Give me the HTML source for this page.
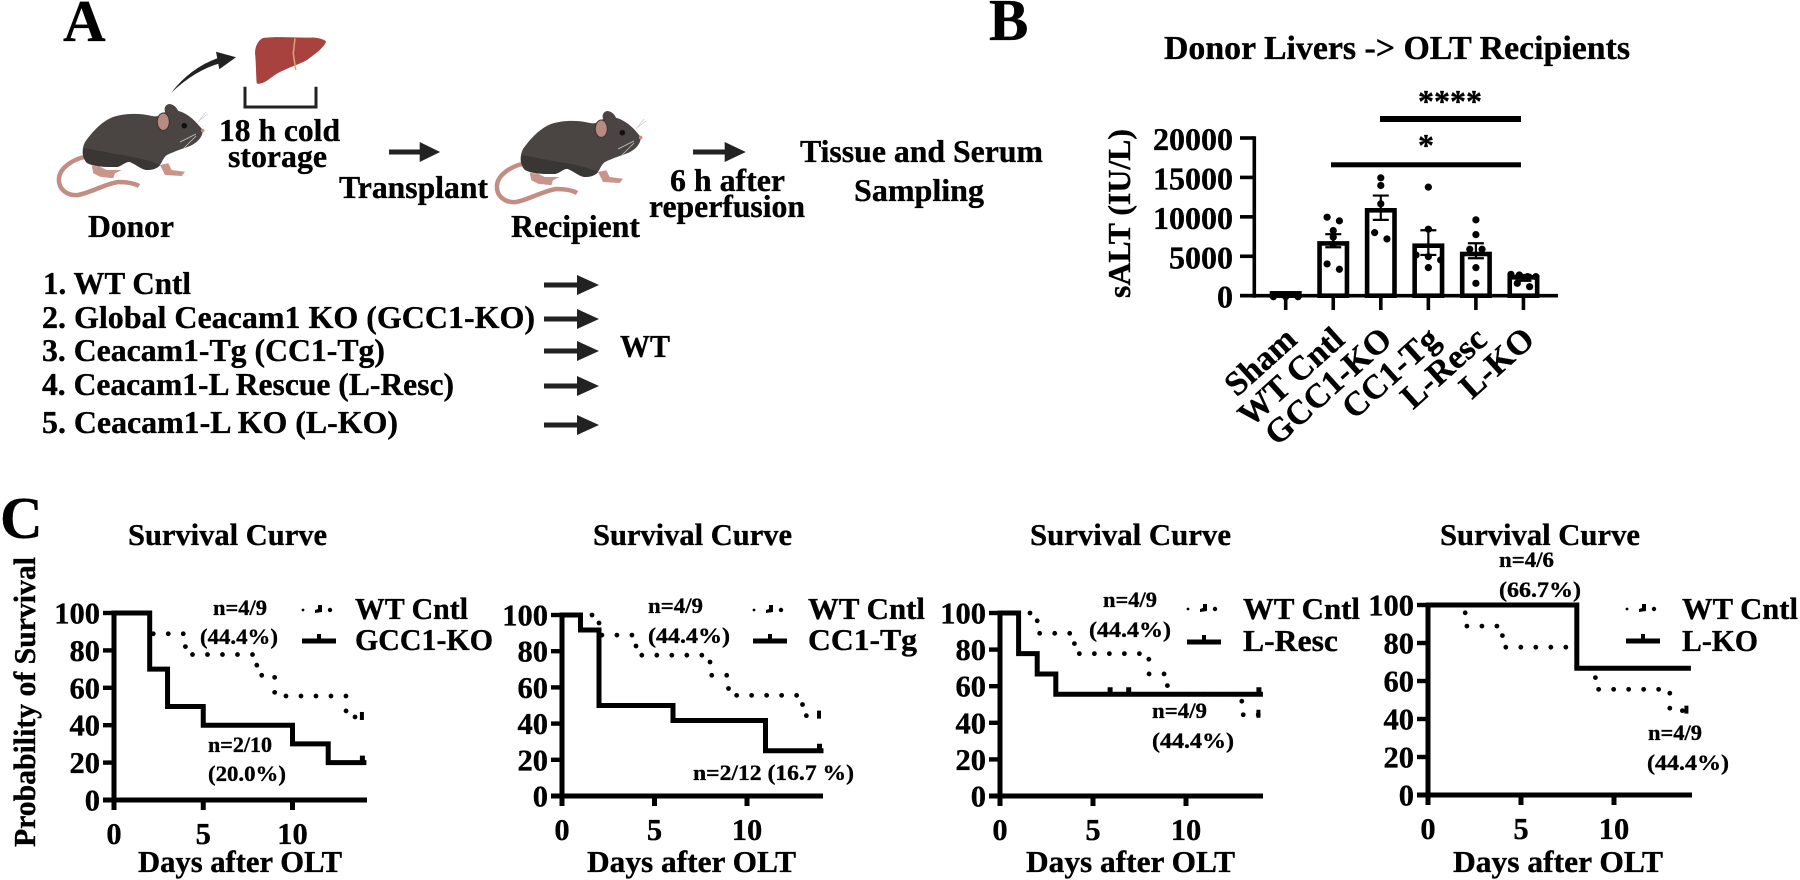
<!DOCTYPE html>
<html lang="en">
<head>
<meta charset="utf-8">
<title>Donor liver transplant figure</title>
<style>
html,body{margin:0;padding:0;background:#fff;width:1800px;height:880px;overflow:hidden}
svg{display:block}
text{font-family:"Liberation Serif",serif;font-weight:bold;fill:#000;stroke:#000;stroke-width:.35px}
.f59{font-size:59px}.f30{font-size:30.5px}.f22{font-size:22.5px}.f32{font-size:32px}.f335{font-size:33.5px}.f34{font-size:34px}
</style>
</head>
<body>
<svg id="figure" xmlns="http://www.w3.org/2000/svg" width="1800" height="880" viewBox="0 0 1800 880">
<defs>
<g id="mouse-shape">
<path d="M84 157C72 160 60 168 59 178C58 190 68 196 78 195C90 193 105 184 118 182C126 182 134 183 139 186" fill="none" stroke="#c48d83" stroke-width="4.5"/>
<path d="M91.700 165.700L100 166.700L106.700 170L121.700 170L115 173.300L113.300 178.300L100 176.700L93.300 173.300Z" fill="#c9958b"/>
<path d="M160 165L168.300 163.300L171.700 170L185 171.700L181.700 176L165 175Z" fill="#c9958b"/>
<path d="M202.700 130C198 124 190 114 178 110.700C176 106 172 104 169 104C165 105 164 108 165 112C160 116 156 117 152 116C140 113 125 113 113 117C100 122 90 135 85 142C82 148 81 157 87 163C95 167 105 167 117 167C122 166 126 161 130 162C137 165 142 170 147 170C153 170 158 168 160 165C163 160 164 157 167 155C175 151 185 148 190 146C197 143 203 137 202.700 130Z" fill="#4a4542"/>
<path d="M87 163C95 167 105 167 117 167C122 166 126 161 130 162C137 165 142 170 147 170C153 170 158 168 160 165C150 160 130 156 115 154C105 152 95 150 84 148C82 152 83 159 87 163Z" fill="#3a3634"/>
<ellipse cx="163.300" cy="121.700" rx="6" ry="8.700" fill="#b98a80" stroke="#3a3634" stroke-width="1"/>
<circle cx="184.300" cy="125.700" r="2.800" fill="#111"/>
<circle cx="202.700" cy="130.500" r="1.800" fill="#d08a80"/>
<path d="M198 122L206 112M200 120L208 114M196 134L180 142M196 136L184 148" stroke="#ccc" stroke-width=".7" fill="none"/>
</g>
<g id="arrow-shape">
<rect x="0" y="-2.500" width="36" height="5" fill="#222"/>
<path d="M33 -10L55 0L33 10Z" fill="#222"/>
</g>
</defs>

<!-- Panel A -->
<g id="panel-a">
<text class="f59" x="63" y="41">A</text>
<path d="M171 93Q190 68 218 58L221 63Q195 70 171 93Z" fill="#222"/>
<path d="M216 51.700L236 57.300L219.300 69.300Z" fill="#222"/>
<path d="M263 38C275 36 300 38 313 37.500C320 38 326 40 326 42C324 47 318 52 307 60C300 64 290 67 280 72C272 76 268 81 263 82.700C259 84 257 84 256.700 83C256 75 256 62 255 53C255 47 258 40 263 38Z" fill="#a8423f"/>
<path d="M295 38.300L293.300 53.300L295.700 70" stroke="#d9a57c" stroke-width="1.500" fill="none"/>
<path d="M245 86.700V107H316V86.700" fill="none" stroke="#222" stroke-width="3"/>
<use href="#mouse-shape"/>
<use href="#mouse-shape" transform="translate(438,7)"/>
<text class="f32" x="219" y="141" textLength="121" lengthAdjust="spacingAndGlyphs">18 h cold</text>
<text class="f32" x="228" y="167" textLength="99" lengthAdjust="spacingAndGlyphs">storage</text>
<use href="#arrow-shape" transform="translate(389,152) scale(.93,1)"/>
<text class="f32" x="339" y="198" textLength="149" lengthAdjust="spacingAndGlyphs">Transplant</text>
<text class="f32" x="88" y="237" textLength="86" lengthAdjust="spacingAndGlyphs">Donor</text>
<text class="f32" x="511" y="237" textLength="129" lengthAdjust="spacingAndGlyphs">Recipient</text>
<use href="#arrow-shape" transform="translate(693,152) scale(.96,1)"/>
<text class="f32" x="670" y="191" textLength="115" lengthAdjust="spacingAndGlyphs">6 h after</text>
<text class="f32" x="649" y="217" textLength="156" lengthAdjust="spacingAndGlyphs">reperfusion</text>
<text class="f32" x="800" y="162" textLength="243" lengthAdjust="spacingAndGlyphs">Tissue and Serum</text>
<text class="f32" x="854" y="201" textLength="130" lengthAdjust="spacingAndGlyphs">Sampling</text>
<text class="f32" x="43" y="294" textLength="148" lengthAdjust="spacingAndGlyphs">1. WT Cntl</text>
<text class="f32" x="42" y="328" textLength="493" lengthAdjust="spacingAndGlyphs">2. Global Ceacam1 KO (GCC1-KO)</text>
<text class="f32" x="42" y="361" textLength="343" lengthAdjust="spacingAndGlyphs">3. Ceacam1-Tg (CC1-Tg)</text>
<text class="f32" x="42" y="395" textLength="412" lengthAdjust="spacingAndGlyphs">4. Ceacam1-L Rescue (L-Resc)</text>
<text class="f32" x="42" y="433" textLength="356" lengthAdjust="spacingAndGlyphs">5. Ceacam1-L KO (L-KO)</text>
<use href="#arrow-shape" transform="translate(544,285)"/>
<use href="#arrow-shape" transform="translate(544,319)"/>
<use href="#arrow-shape" transform="translate(544,351)"/>
<use href="#arrow-shape" transform="translate(544,386)"/>
<use href="#arrow-shape" transform="translate(544,425)"/>
<text class="f32" x="620" y="357" textLength="50" lengthAdjust="spacingAndGlyphs">WT</text>
</g>

<!-- Panel B -->
<g id="panel-b">
<text class="f59" x="989" y="40">B</text>
<text class="f335" x="1164" y="59" textLength="466" lengthAdjust="spacingAndGlyphs">Donor Livers -&gt; OLT Recipients</text>
<text class="f32" x="0" y="0" text-anchor="middle" transform="translate(1130,213.500) rotate(-90)" textLength="169" lengthAdjust="spacingAndGlyphs">sALT (IU/L)</text>
<text class="f32" x="1450" y="112" text-anchor="middle">****</text>
<rect x="1380" y="116" width="141" height="6" fill="#000"/>
<text class="f32" x="1426" y="156" text-anchor="middle">*</text>
<rect x="1331" y="162.300" width="190" height="5" fill="#000"/>
<g id="bar-plot"></g>
</g>

<!-- Panel C -->
<g id="panel-c">
<text class="f59" x="0" y="538">C</text>
<text class="f30" x="0" y="0" text-anchor="middle" transform="translate(35,702) rotate(-90)" textLength="290" lengthAdjust="spacingAndGlyphs">Probability of Survival</text>

<text class="f30" x="128" y="545" textLength="199" lengthAdjust="spacingAndGlyphs">Survival Curve</text>
<text class="f30" x="138" y="872" textLength="204" lengthAdjust="spacingAndGlyphs">Days after OLT</text>
<text class="f30" x="355" y="619" textLength="113" lengthAdjust="spacingAndGlyphs">WT Cntl</text>
<text class="f30" x="355" y="650" textLength="138" lengthAdjust="spacingAndGlyphs">GCC1-KO</text>
<text class="f22" x="213" y="615" textLength="54" lengthAdjust="spacingAndGlyphs">n=4/9</text>
<text class="f22" x="200" y="644" textLength="78" lengthAdjust="spacingAndGlyphs">(44.4%)</text>
<text class="f22" x="208" y="752" textLength="64" lengthAdjust="spacingAndGlyphs">n=2/10</text>
<text class="f22" x="208" y="781" textLength="78" lengthAdjust="spacingAndGlyphs">(20.0%)</text>

<text class="f30" x="593" y="545" textLength="199" lengthAdjust="spacingAndGlyphs">Survival Curve</text>
<text class="f30" x="587" y="872" textLength="209" lengthAdjust="spacingAndGlyphs">Days after OLT</text>
<text class="f30" x="808" y="619" textLength="117" lengthAdjust="spacingAndGlyphs">WT Cntl</text>
<text class="f30" x="808" y="650" textLength="109" lengthAdjust="spacingAndGlyphs">CC1-Tg</text>
<text class="f22" x="648" y="613" textLength="55" lengthAdjust="spacingAndGlyphs">n=4/9</text>
<text class="f22" x="648" y="643" textLength="82" lengthAdjust="spacingAndGlyphs">(44.4%)</text>
<text class="f22" x="693" y="780" textLength="161" lengthAdjust="spacingAndGlyphs">n=2/12 (16.7 %)</text>

<text class="f30" x="1030" y="545" textLength="201" lengthAdjust="spacingAndGlyphs">Survival Curve</text>
<text class="f30" x="1026" y="872" textLength="209" lengthAdjust="spacingAndGlyphs">Days after OLT</text>
<text class="f30" x="1243" y="619" textLength="117" lengthAdjust="spacingAndGlyphs">WT Cntl</text>
<text class="f30" x="1243" y="651" textLength="95" lengthAdjust="spacingAndGlyphs">L-Resc</text>
<text class="f22" x="1103" y="607" textLength="54" lengthAdjust="spacingAndGlyphs">n=4/9</text>
<text class="f22" x="1089" y="637" textLength="82" lengthAdjust="spacingAndGlyphs">(44.4%)</text>
<text class="f22" x="1152" y="718" textLength="55" lengthAdjust="spacingAndGlyphs">n=4/9</text>
<text class="f22" x="1152" y="748" textLength="82" lengthAdjust="spacingAndGlyphs">(44.4%)</text>

<text class="f30" x="1440" y="545" textLength="200" lengthAdjust="spacingAndGlyphs">Survival Curve</text>
<text class="f30" x="1453" y="872" textLength="210" lengthAdjust="spacingAndGlyphs">Days after OLT</text>
<text class="f30" x="1682" y="619" textLength="116" lengthAdjust="spacingAndGlyphs">WT Cntl</text>
<text class="f30" x="1682" y="651" textLength="76" lengthAdjust="spacingAndGlyphs">L-KO</text>
<text class="f22" x="1499" y="567" textLength="55" lengthAdjust="spacingAndGlyphs">n=4/6</text>
<text class="f22" x="1499" y="597" textLength="82" lengthAdjust="spacingAndGlyphs">(66.7%)</text>
<text class="f22" x="1648" y="740" textLength="54" lengthAdjust="spacingAndGlyphs">n=4/9</text>
<text class="f22" x="1647" y="770" textLength="82" lengthAdjust="spacingAndGlyphs">(44.4%)</text>
<g id="survival-plots"></g>
</g>
</svg>

<script>
// ---- Bar chart data ----
const barCategories = ["Sham", "WT Cntl", "GCC1-KO", "CC1-Tg", "L-Resc", "L-KO"];
const barMeans = [300, 6630, 10830, 6340, 5290, 2330];
const barErrHigh = [400, 7800, 12700, 8300, 6650, 2630];
const barErrLow = [200, 6140, 9620, 5170, 4745, 1900];
const shamDots = [-130, -130, -130];
const wtDots = [9960, 9490, 8260, 7415, 6500, 4030, 3350];
const gccDots = [14950, 13980, 11650, 8000, 7200];
const cc1Dots = [13770, 8430, 5170, 4960, 4530, 3560];
const rescDots = [9620, 7750, 5890, 5890, 3560, 1570];
const lkoDots = [2710, 2630, 2415, 2415, 1570, 1140];
const barDotGroups = [shamDots, wtDots, gccDots, cc1Dots, rescDots, lkoDots];
const barYTicks = [0, 5000, 10000, 15000, 20000];

// ---- Survival data ----
const wtDays = [0, 2, 4, 8, 9, 13, 14];
const wtSurvival = [100, 88.9, 77.8, 66.7, 55.6, 44.4, 44.4];
const gccDays = [0, 2, 3, 5, 10, 12, 14];
const gccSurvival = [100, 70, 50, 40, 30, 20, 20];
const cc1Days = [0, 1, 2, 6, 11, 14];
const cc1Survival = [100, 91.7, 50, 41.7, 25, 25];
const rescDays = [0, 1, 2, 3, 14];
const rescSurvival = [100, 77.8, 66.7, 55.6, 55.6];
const lkoDays = [0, 8, 14];
const lkoSurvival = [100, 66.7, 66.7];
const gccCensored = [14];
const cc1Censored = [14];
const rescCensored = [6, 7, 14];
const lkoCensored = [];
const wtCensored = [14];
const survYTicks = [0, 20, 40, 60, 80, 100];
const survXTicks = [0, 5, 10];

var NS = 'http://www.w3.org/2000/svg';
function mk(tag, attrs, parent) {
  var el = document.createElementNS(NS, tag);
  for (var k in attrs) el.setAttribute(k, attrs[k]);
  parent.appendChild(el);
  return el;
}

// ---- Bar chart drawing ----
(function () {
  var root = document.getElementById('bar-plot');
  var y0 = 295.7, yTop = 138, axisX = 1254.3, firstX = 1285.7, catStep = 47.55;
  function yScale(v) { return y0 - (v / 20000) * (y0 - yTop); }
  function xScale(i) { return firstX + i * catStep; }
  // Prism-style rows: close values share a row, centred on the category
  function swarm(values) {
    var rows = [], out = [];
    values.forEach(function (v, idx) {
      var py = yScale(v), last = rows[rows.length - 1];
      if (last && Math.abs(py - last.y) < 6.5) { last.items.push(idx); }
      else { rows.push({ y: py, items: [idx] }); }
    });
    rows.forEach(function (r) {
      var n = r.items.length;
      var gap = n > 1 ? Math.min(12.3, 25 / (n - 1)) : 0;
      r.items.forEach(function (idx, j) { out[idx] = (j - (n - 1) / 2) * gap; });
    });
    return out;
  }

  barCategories.forEach(function (cat, i) {
    var cx = xScale(i);
    var bar = mk('rect', { x: cx - 13.7, y: yScale(barMeans[i]), width: 27.4, height: Math.max(0, y0 - yScale(barMeans[i])), fill: '#fff', stroke: '#000', 'stroke-width': 4.6 }, root);
    
    
  });

  var yAxis = mk('line', { x1: axisX, x2: axisX, y1: yTop - 1.8, y2: y0 + 2, stroke: '#000', 'stroke-width': 3.6 }, root);
  
  
  var xAxis = mk('line', { x1: 1240, x2: 1558, y1: y0, y2: y0, stroke: '#000', 'stroke-width': 3.6 }, root);
  
  

  barYTicks.forEach(function (t) {
    var tick = mk('line', { x1: 1240, x2: axisX, y1: yScale(t), y2: yScale(t), stroke: '#000', 'stroke-width': 3.6 }, root);
    
    
    var lab = mk('text', { x: 1233, y: yScale(t) + 12, 'text-anchor': 'end', 'class': 'f32' }, root);
    lab.textContent = String(t);
    
    
  });

  barCategories.forEach(function (cat, i) {
    var cx = xScale(i);
    var slug = cat.toLowerCase().replace(/\s+/g, '-');
    var tick = mk('line', { x1: cx, x2: cx, y1: y0, y2: 310, stroke: '#000', 'stroke-width': 3.6 }, root);
    
    
    var lab = mk('text', { x: 0, y: 0, 'text-anchor': 'end', 'class': 'f34', transform: 'translate(' + (cx + 13) + ',342) rotate(-42)' }, root);
    lab.textContent = cat;
    
    

    var offs = swarm(barDotGroups[i]);
    barDotGroups[i].forEach(function (v, j) {
      var dot = mk('circle', { cx: cx + offs[j], cy: yScale(v), r: 3.6, fill: '#000' }, root);
      
      
    });

    var err = mk('path', {
      d: 'M' + (cx - 8) + ' ' + yScale(barErrHigh[i]) + 'H' + (cx + 8) + 'M' + cx + ' ' + yScale(barErrHigh[i]) + 'V' + yScale(barErrLow[i]) + 'M' + (cx - 8) + ' ' + yScale(barErrLow[i]) + 'H' + (cx + 8),
      fill: 'none', stroke: '#000', 'stroke-width': 2.2
    }, root);
    
    
  });
})();

// ---- Survival chart drawing ----
var survivalPanels = [
  { key: 'gcc1', days: gccDays, surv: gccSurvival, cens: gccCensored, x0: 114, perDay: 17.85, y100: 613, y0: 800, tickLeft: 103, axisEnd: 367, legendX: 302, legendY1: 609, legendY2: 641 },
  { key: 'cc1', days: cc1Days, surv: cc1Survival, cens: cc1Censored, x0: 562, perDay: 18.5, y100: 615, y0: 796, tickLeft: 551, axisEnd: 823, legendX: 753, legendY1: 609, legendY2: 641 },
  { key: 'resc', days: rescDays, surv: rescSurvival, cens: rescCensored, x0: 1000, perDay: 18.6, y100: 613, y0: 796, tickLeft: 989, axisEnd: 1263, legendX: 1187, legendY1: 608, legendY2: 642 },
  { key: 'lko', days: lkoDays, surv: lkoSurvival, cens: lkoCensored, x0: 1428, perDay: 18.6, y100: 605, y0: 795, tickLeft: 1417, axisEnd: 1692, legendX: 1626, legendY1: 608, legendY2: 641 }
];

function stepPath(days, vals, x, y) {
  var d = 'M' + x(days[0]) + ' ' + y(vals[0]);
  for (var i = 1; i < days.length; i++) {
    d += 'H' + x(days[i]) + 'V' + y(vals[i]);
  }
  return d;
}

survivalPanels.forEach(function (p) {
  var root = document.getElementById('survival-plots');
  var g = mk('g', {}, root);
  
  
  var x = function (d) { return p.x0 + d * p.perDay; };
  var y = function (v) { return p.y0 - (v / 100) * (p.y0 - p.y100); };

  var dotted = mk('path', { d: stepPath(wtDays, wtSurvival, x, y), fill: 'none', stroke: '#000', 'stroke-width': 4.8, 'stroke-linecap': 'round', 'stroke-dasharray': '0 15' }, g);
  
  
  wtCensored.forEach(function (d) {
    var c = mk('rect', { x: x(d) - 4, y: y(wtSurvival[wtSurvival.length - 1]) - 5, width: 4, height: 8, fill: '#000' }, g);
    
    
  });

  var xAxis = mk('line', { x1: p.tickLeft, x2: p.axisEnd, y1: p.y0, y2: p.y0, stroke: '#000', 'stroke-width': 5 }, g);
  
  
  var yAxis = mk('line', { x1: p.x0, x2: p.x0, y1: p.y100 - 2, y2: p.y0 + 10, stroke: '#000', 'stroke-width': 5 }, g);
  
  

  survYTicks.forEach(function (t) {
    var tick = mk('line', { x1: p.tickLeft, x2: p.x0, y1: y(t), y2: y(t), stroke: '#000', 'stroke-width': 4.4 }, g);
    
    
    var lab = mk('text', { x: p.tickLeft - 3, y: y(t) + 10.5, 'text-anchor': 'end', 'class': 'f30' }, g);
    lab.textContent = String(t);
    
    
  });
  survXTicks.forEach(function (t) {
    var tick = mk('line', { x1: x(t), x2: x(t), y1: p.y0, y2: p.y0 + 10, stroke: '#000', 'stroke-width': 5 }, g);
    
    
    var lab = mk('text', { x: x(t), y: p.y0 + 44, 'text-anchor': 'middle', 'class': 'f30' }, g);
    lab.textContent = String(t);
    
    
  });

  var solid = mk('path', { d: stepPath(p.days, p.surv, x, y), fill: 'none', stroke: '#000', 'stroke-width': 5, 'stroke-linecap': 'square' }, g);
  
  
  p.cens.forEach(function (d) {
    var lastIdx = 0;
    for (var i = 0; i < p.days.length; i++) { if (p.days[i] <= d) lastIdx = i; }
    var c = mk('rect', { x: x(d) - 4, y: y(p.surv[lastIdx]) - 7, width: 5, height: 7, fill: '#000' }, g);
    
    
  });

  // legend swatches
  var lx = p.legendX;
  var d1 = mk('circle', { cx: lx + 1, cy: p.legendY1 + 1, r: 1.4, fill: '#000' }, g);
  
  
  var d2 = mk('path', { d: 'M' + (lx + 13) + ' ' + (p.legendY1 + 1) + 'l3 -1l0 -4l4 0l0 7l-7 1z', fill: '#000' }, g);
  
  
  var d3 = mk('circle', { cx: lx + 28, cy: p.legendY1 + 1, r: 2.2, fill: '#000' }, g);
  
  
  var s1 = mk('rect', { x: lx, y: p.legendY2 - 2.5, width: 34, height: 5, fill: '#000' }, g);
  
  
  var s2 = mk('rect', { x: lx + 15, y: p.legendY2 - 7, width: 4, height: 5, fill: '#000' }, g);
  
  
});
</script>
</body>
</html>
